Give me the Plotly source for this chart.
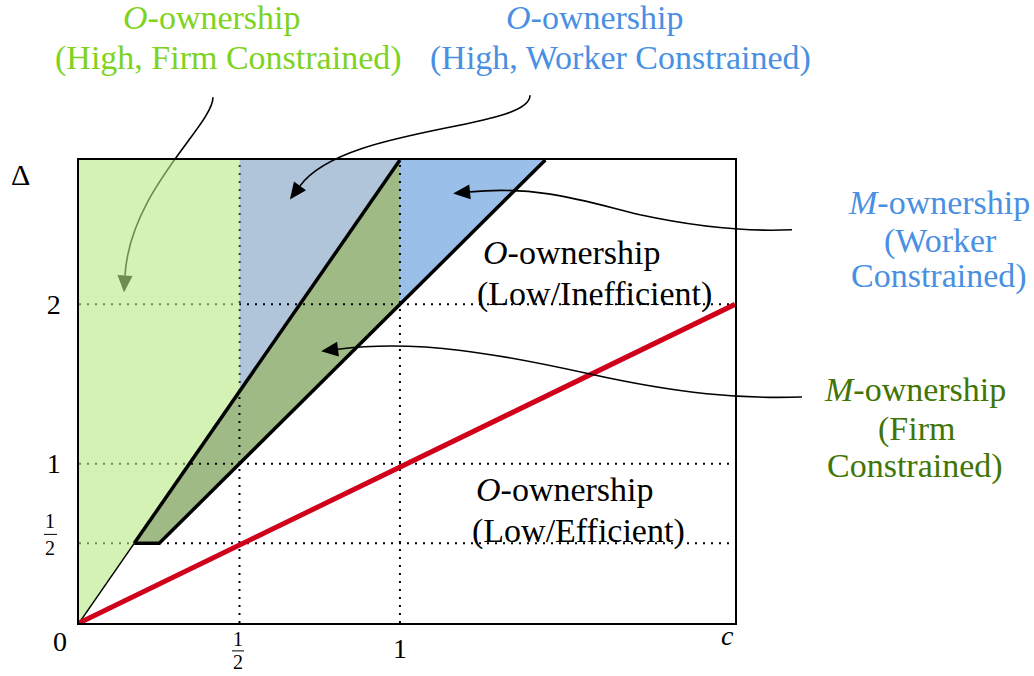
import math
import plotly.graph_objects as go

# ---------------- data ----------------
c_max = 2.044          # right end of the c axis
delta_max = 2.906      # top of the Δ axis

# boundary of High ownership (steep line) – thin part then thick part
steep_thin_c = [0.0, 0.172]
steep_thin_delta = [0.0, 0.5]
steep_thick_c = [0.172, 1.0]
steep_thick_delta = [0.5, 2.906]
# Firm-constrained boundary (kink at Δ=1/2, then Δ = 2c)
firm_c = [0.172, 0.25, 1.453]
firm_delta = [0.5, 0.5, 2.906]
# efficient threshold (red)
red_c = [0.0, 2.044]
red_delta = [0.0, 2.0]

# shaded regions
green_c = [0.0, 0.0, 0.5, 0.5, 0.0]
green_delta = [0.0, 2.906, 2.906, 1.453, 0.0]
slate_c = [0.5, 0.5, 1.0, 0.5]
slate_delta = [1.453, 2.906, 2.906, 1.453]
olive_c = [0.172, 0.25, 1.0, 1.0, 0.172]
olive_delta = [0.5, 0.5, 2.0, 2.906, 0.5]
blue_c = [1.0, 1.0, 1.453, 1.0]
blue_delta = [2.0, 2.906, 2.906, 2.0]

# dotted guide lines
guide_delta = [0.5, 1.0, 2.0]
guide_c = [0.5, 1.0]

# tick labels
y_tickvals = [1, 2]
y_ticktext = ["1", "2"]
x_tickvals = [1]
x_ticktext = ["1"]

# region labels
label_green_top = ["<i>O</i>-ownership", "(High, Firm Constrained)"]
label_blue_top = ["<i>O</i>-ownership", "(High, Worker Constrained)"]
label_ineff = ["<i>O</i>-ownership", "(Low/Inefficient)"]
label_eff = ["<i>O</i>-ownership", "(Low/Efficient)"]
label_blue_right = ["<i>M</i>-ownership", "(Worker", "Constrained)"]
label_green_right = ["<i>M</i>-ownership", "(Firm", "Constrained)"]

# ---------------- layout geometry ----------------
W, H = 1034, 676
PL, PR, PT, PB = 79, 735, 160, 625          # plot box in window pixels
ML, MT = PL, PT
MR, MB = W - PR, H - PB
PW = PR - PL
PH = PB - PT
FONT = "Liberation Serif"


def px(x):
    return (x - PL) / PW


def py(y):
    return (PB - y) / PH


fig = go.Figure()


def poly(cs, ds, color):
    fig.add_trace(go.Scatter(x=cs, y=ds, mode="lines", fill="toself",
                             fillcolor=color, line=dict(width=0),
                             hoverinfo="skip", showlegend=False))


def line(cs, ds, color, width, dash=None):
    fig.add_trace(go.Scatter(x=cs, y=ds, mode="lines",
                             line=dict(color=color, width=width, dash=dash),
                             hoverinfo="skip", showlegend=False))


poly(slate_c, slate_delta, "#b0c4da")
poly(olive_c, olive_delta, "#a0ba86")
poly(blue_c, blue_delta, "#9ac0ea")

for d in guide_delta:
    line([0, c_max], [d, d], "black", 2, "2px,6px")
for c in guide_c:
    line([c, c], [0, delta_max], "black", 2, "2px,6px")

poly(green_c, green_delta, "rgba(183,233,130,0.6)")

line(steep_thin_c, steep_thin_delta, "black", 1.5)
line(steep_thick_c, steep_thick_delta, "black", 3.5)
line(firm_c, firm_delta, "black", 3.5)
line(red_c, red_delta, "#D0021B", 5)

# ---------------- curved arrows ----------------
shapes = []


def curve(points, layer):
    s = f"M {px(points[0][0]):.5f},{py(points[0][1]):.5f}"
    rest = points[1:]
    for i in range(0, len(rest), 3):
        s += " C " + " ".join(f"{px(a):.5f},{py(b):.5f}" for a, b in rest[i:i + 3])
    shapes.append(dict(type="path", xref="paper", yref="paper", path=s,
                       line=dict(color="black", width=1.6), layer=layer))
    end, ctrl = points[-1], points[-2]
    dx, dy = end[0] - ctrl[0], end[1] - ctrl[1]
    n = math.hypot(dx, dy)
    dx, dy = dx / n, dy / n
    ln, hw = 17, 7.5
    tip = (end[0] + dx * ln, end[1] + dy * ln)
    b1 = (end[0] - dy * hw, end[1] + dx * hw)
    b2 = (end[0] + dy * hw, end[1] - dx * hw)
    p = "M " + " L ".join(f"{px(a):.5f},{py(b):.5f}" for a, b in (tip, b1, b2)) + " Z"
    shapes.append(dict(type="path", xref="paper", yref="paper", path=p,
                       fillcolor="black", line=dict(width=0), layer=layer))


curve([(213, 97), (213, 125), (130, 190), (125, 276)], "below")
curve([(530, 95), (530, 130), (345, 125), (300, 186)], "above")
curve([(792, 230), (750, 232), (700, 228), (640, 215),
       (590, 203), (540, 185), (470, 192)], "above")
curve([(802, 398), (740, 400), (680, 395), (590, 375),
       (500, 355), (420, 340), (338, 350)], "above")

# fraction bars
shapes.append(dict(type="line", xref="paper", yref="paper",
                   x0=px(44), x1=px(57), y0=py(536), y1=py(536),
                   line=dict(color="black", width=1)))
shapes.append(dict(type="line", xref="paper", yref="paper",
                   x0=px(232), x1=px(244), y0=py(653), y1=py(653),
                   line=dict(color="black", width=1)))

# ---------------- text ----------------
annotations = []


def text(t, x, y, color="black", size=34):
    annotations.append(dict(text=t, x=px(x), y=py(y), xref="paper", yref="paper",
                            xanchor="center", yanchor="middle", showarrow=False,
                            font=dict(family=FONT, size=size, color=color)))


def block(lines, xs, ys, color):
    for t, x, y in zip(lines, xs, ys):
        text(t, x, y, color)


block(label_green_top, [212, 228], [17, 58], "#7ED321")
block(label_blue_top, [595, 620], [17, 58], "#4A90E2")
block(label_ineff, [572, 594], [253, 295], "black")
block(label_eff, [565, 578], [491, 533], "black")
block(label_blue_right, [939, 940, 939], [203, 241, 277], "#4A90E2")
block(label_green_right, [915, 916, 915], [390, 430, 467], "#417505")

text("0", 60, 644, size=28)
text("<i>c</i>", 727, 638, size=28)
text("Δ", 20, 175, size=30)
text("1", 50, 523, size=20)
text("2", 50, 550, size=20)
text("1", 238, 641, size=20)
text("2", 238, 664, size=20)

fig.update_layout(
    width=W, height=H,
    margin=dict(l=ML, r=MR, t=MT, b=MB, pad=0),
    paper_bgcolor="white", plot_bgcolor="rgba(0,0,0,0)",
    showlegend=False,
    shapes=shapes, annotations=annotations,
    font=dict(family=FONT, size=28, color="black"),
)
fig.update_xaxes(range=[0, c_max], showgrid=False, zeroline=False,
                 showline=True, mirror=True, linecolor="black", linewidth=1.5,
                 tickvals=x_tickvals, ticktext=x_ticktext, ticks="",
                 ticklabelstandoff=0, tickfont=dict(family=FONT, size=28))
fig.update_yaxes(range=[0, delta_max], showgrid=False, zeroline=False,
                 showline=True, mirror=True, linecolor="black", linewidth=1.5,
                 tickvals=y_tickvals, ticktext=y_ticktext, ticks="",
                 ticklabelstandoff=11, tickfont=dict(family=FONT, size=28))

fig.write_html("out.html",
               config={"displayModeBar": False},
               post_script="document.body.style.margin='0';"
                           "document.body.style.padding='0';")
